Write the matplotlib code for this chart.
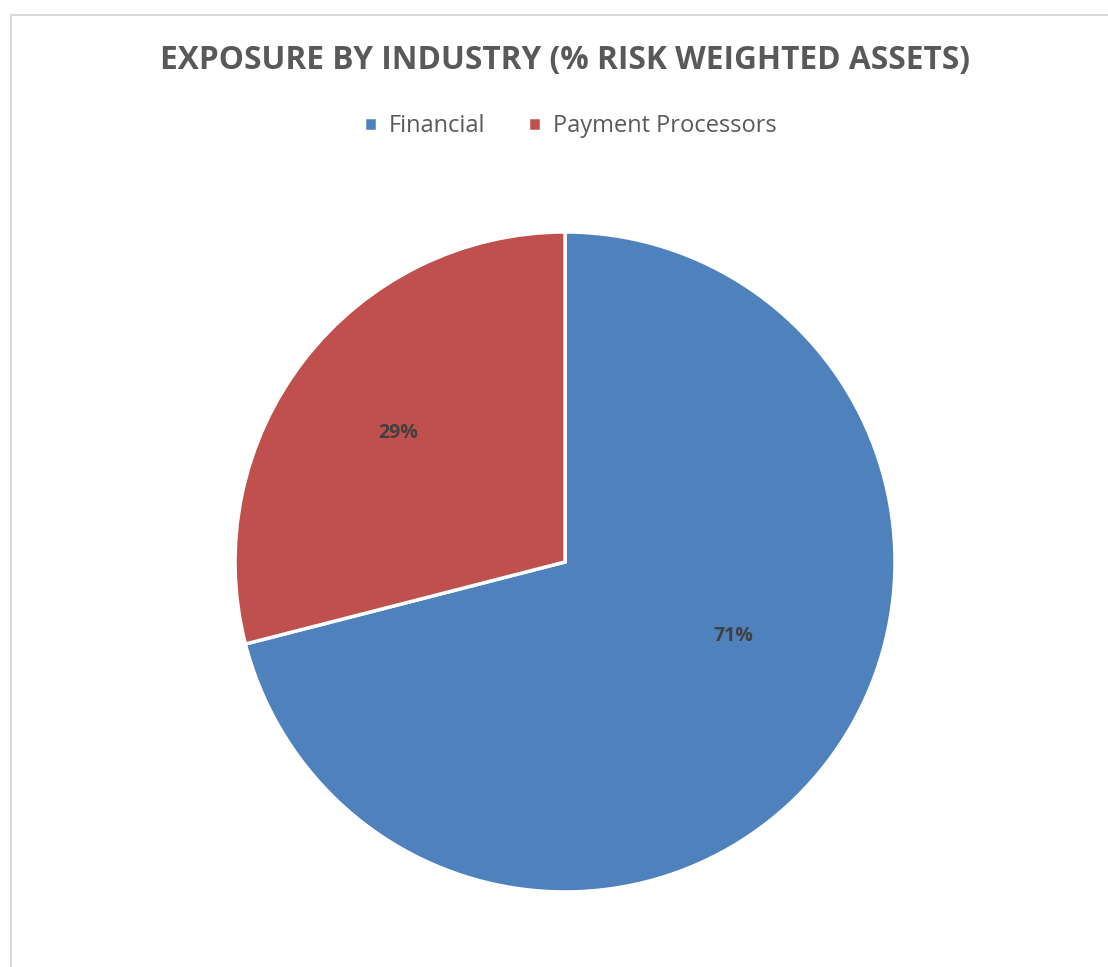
import matplotlib.pyplot as plt
from matplotlib.patches import Rectangle

# Chart data
labels = ['Financial', 'Payment Processors']
shares = [71, 29]
colors = ['#4F81BD', '#C0504D']

TEXT_GRAY = '#595959'

plt.rcParams['font.family'] = ['Open Sans', 'DejaVu Sans']

fig = plt.figure(figsize=(11.08, 9.67), dpi=100)

# Light gray chart-area frame (cropped on the right and bottom)
fig.add_artist(Rectangle((10.5 / 1108, -0.1), 1.2, 1.1 - 15 / 967,
                         transform=fig.transFigure, fill=False,
                         edgecolor='#D9D9D9', linewidth=1.5))

ax = fig.add_axes([0.2121, 0.0776, 0.5957, 0.6825])
wedges, texts, autotexts = ax.pie(
    shares, colors=colors, startangle=90, counterclock=False,
    autopct='%1.0f%%', pctdistance=0.64,
    wedgeprops=dict(edgecolor='white', linewidth=2.5),
    textprops=dict(fontsize=14, fontweight='bold', color='#404040'))
ax.set_xlim(-1, 1)
ax.set_ylim(-1, 1)
ax.set_aspect('equal')
# Excel "best fit" nudges the big slice label toward the right
autotexts[0].set_position((0.51, -0.225))

fig.text(0.51, 1 - 61 / 967, 'EXPOSURE BY INDUSTRY (% RISK WEIGHTED ASSETS)',
         ha='center', va='center', fontsize=22.8, fontweight='bold', color=TEXT_GRAY)

leg = fig.legend(wedges, labels, loc='center', bbox_to_anchor=(0.515, 1 - 126 / 967),
                 ncol=2, frameon=False, fontsize=17, handlelength=0.55, handleheight=0.55,
                 handletextpad=0.5, columnspacing=1.8)
for t in leg.get_texts():
    t.set_color(TEXT_GRAY)

plt.savefig('out.png', dpi=100, facecolor='white')
